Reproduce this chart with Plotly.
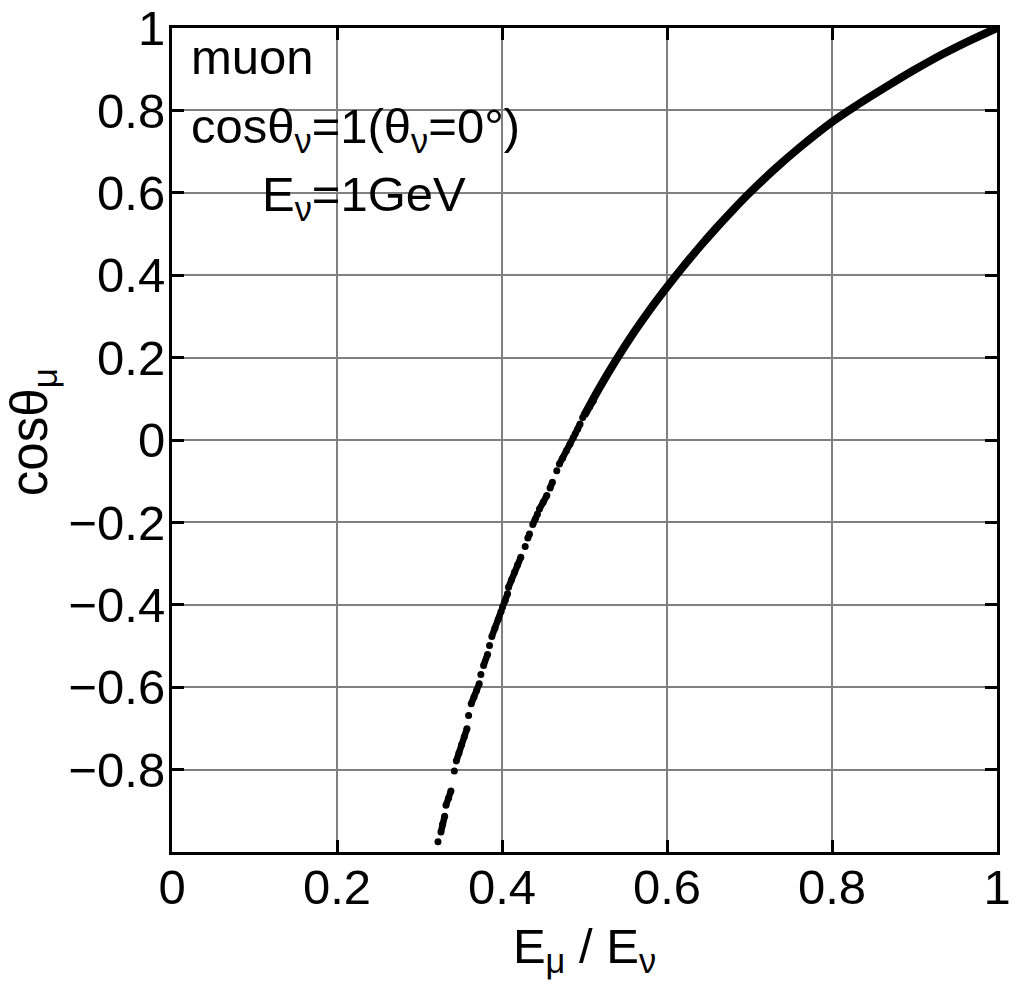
import plotly.graph_objects as go

# Dense branch of the curve (upper part)
dense_x = [0.4995, 0.5168, 0.5382, 0.5600, 0.5800, 0.6000, 0.6200, 0.6400, 0.6600,
           0.6800, 0.7000, 0.7300, 0.7600, 0.8000, 0.8300, 0.8700, 0.9000, 0.9350,
           0.9670, 1.0000]
dense_y = [0.0589, 0.1220, 0.1937, 0.2613, 0.3183, 0.3713, 0.4217, 0.4697, 0.5153,
           0.5585, 0.5995, 0.6565, 0.7087, 0.7719, 0.8125, 0.8625, 0.8985, 0.9375,
           0.9695, 1.0000]

# Sparse dots / short runs of overlapping dots (lower part).
# None separates one run from the next.
sparse_x = [0.3224, None,
            0.3260, 0.3280, 0.3305, None,
            0.3321, 0.3353, 0.3381, None,
            0.3422, None,
            0.3446, 0.3478, 0.3510, 0.3543, 0.3575, None,
            0.3595, None,
            0.3627, 0.3660, 0.3692, 0.3724, None,
            0.3744, None,
            0.3777, 0.3825, None,
            0.3849, None,
            0.3877, 0.3914, 0.3954, 0.3990, None,
            0.4006, 0.4039, 0.4067, None,
            0.4079, 0.4115, 0.4152, 0.4188, 0.4228, None,
            0.4281, None,
            0.4313, 0.4333, None,
            0.4373, 0.4402, 0.4430, None,
            0.4454, 0.4499, 0.4543, None,
            0.4583, 0.4611, None,
            0.4664, None,
            0.4696, 0.4736, 0.4781, 0.4825, 0.4866, None,
            0.4886, 0.4918, 0.4946, None,
            0.4978, 0.5019, 0.5063, 0.5107]
sparse_y = [-0.9754, None,
            -0.9512, -0.9326, -0.9132, None,
            -0.8866, -0.8688, -0.8518, None,
            -0.8033, None,
            -0.7791, -0.7597, -0.7395, -0.7201, -0.7007, None,
            -0.6684, None,
            -0.6401, -0.6239, -0.6078, -0.5916, None,
            -0.5690, None,
            -0.5472, -0.5205, None,
            -0.4987, None,
            -0.4769, -0.4567, -0.4356, -0.4154, None,
            -0.4057, -0.3896, -0.3734, None,
            -0.3573, -0.3395, -0.3209, -0.3031, -0.2845, None,
            -0.2587, None,
            -0.2377, -0.2280, None,
            -0.2053, -0.1924, -0.1795, None,
            -0.1674, -0.1512, -0.1350, None,
            -0.1164, -0.1027, None,
            -0.0744, None,
            -0.0583, -0.0437, -0.0259, -0.0098, 0.0064, None,
            0.0145, 0.0266, 0.0387, None,
            0.0549, 0.0670, 0.0807, 0.0953]

x_ticks = [0, 0.2, 0.4, 0.6, 0.8, 1]
x_ticklabels = ["0", "0.2", "0.4", "0.6", "0.8", "1"]
y_ticks = [-0.8, -0.6, -0.4, -0.2, 0, 0.2, 0.4, 0.6, 0.8, 1]
y_ticklabels = ["\u22120.8", "\u22120.6", "\u22120.4", "\u22120.2", "0", "0.2", "0.4", "0.6", "0.8", "1"]

FONT = "Liberation Sans, Arial, Helvetica, sans-serif"
FS = 49

fig = go.Figure()
fig.add_trace(go.Scatter(x=dense_x, y=dense_y, mode="lines",
                         line=dict(color="black", width=8, shape="spline", smoothing=1.0),
                         cliponaxis=False, showlegend=False))
fig.add_trace(go.Scatter(x=sparse_x, y=sparse_y, mode="lines+markers",
                         connectgaps=False,
                         line=dict(color="black", width=6.5),
                         marker=dict(color="black", size=7, line=dict(width=0)),
                         cliponaxis=False, showlegend=False))

axis_common = dict(
    showgrid=True, gridcolor="#808080", gridwidth=1.5,
    showline=True, linecolor="black", linewidth=3, mirror="ticks",
    ticks="inside", ticklen=12, tickwidth=3, tickcolor="black",
    zeroline=False, automargin=False, ticklabeloverflow="allow",
    tickfont=dict(family=FONT, size=FS, color="black"),
)

fig.update_xaxes(range=[0, 1], tickvals=x_ticks, ticktext=x_ticklabels,
                 ticklabelstandoff=-10,
                 title=dict(text="E<sub>\u03bc</sub> / E<sub>\u03bd</sub>",
                            font=dict(family=FONT, size=FS, color="black"), standoff=16),
                 **axis_common)
fig.update_yaxes(range=[-1, 1], tickvals=y_ticks, ticktext=y_ticklabels,
                 ticklabelstandoff=-6,
                 **axis_common)

# y-axis title placed as a rotated annotation for exact position
fig.add_annotation(text="cos\u03b8<sub>\u03bc</sub>", xref="paper", yref="paper",
                   x=-0.168, y=0.51, xanchor="center", yanchor="middle",
                   textangle=-90, showarrow=False,
                   font=dict(family=FONT, size=51, color="black"))

ann_font = dict(family=FONT, size=FS, color="black")
fig.add_annotation(text="muon", xref="paper", yref="paper", x=0.02, y=0.965,
                   xanchor="left", yanchor="middle", showarrow=False, font=ann_font)
fig.add_annotation(text="cos\u03b8<sub>\u03bd</sub>=1(\u03b8<sub>\u03bd</sub>=0\u00b0)",
                   xref="paper", yref="paper", x=0.02, y=0.877,
                   xanchor="left", yanchor="middle", showarrow=False, font=ann_font)
fig.add_annotation(text="E<sub>\u03bd</sub>=1GeV", xref="paper", yref="paper", x=0.107, y=0.794,
                   xanchor="left", yanchor="middle", showarrow=False, font=ann_font)

fig.update_layout(
    width=1021, height=1004,
    margin=dict(l=164, r=32, t=20, b=160),
    paper_bgcolor="white", plot_bgcolor="white",
    font=dict(family=FONT, color="black"),
)

fig.write_html("out.html")
